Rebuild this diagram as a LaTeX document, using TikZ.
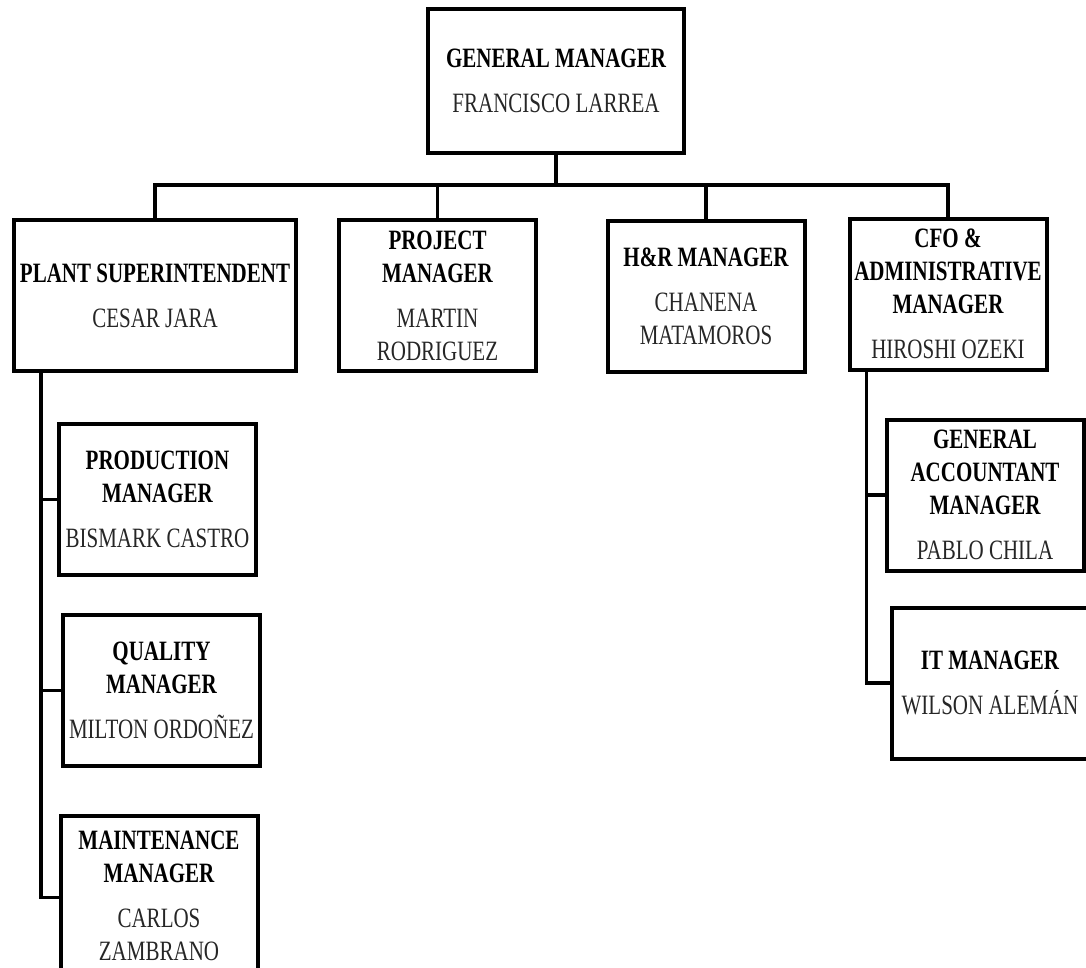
\documentclass[tikz,border=0pt]{standalone}
\usepackage{fontspec}
\setmainfont[FakeStretch=0.75]{Liberation Serif}
\newcommand{\who}[1]{{\mdseries\color{black!85}#1}}
\tikzset{
    post/.style={draw, line width=4pt, inner sep=0pt, align=center,
        minimum width=197pt, minimum height=151pt,
        font=\fontsize{28}{33}\selectfont\bfseries},
    link/.style={line width=3.4pt}
}
\begin{document}
\begin{tikzpicture}[x=1pt, y=-1pt]
    \useasboundingbox (0,0) rectangle (1086,967);

    % Top level
    \node[post, minimum width=256pt, minimum height=144pt] (gm) at (556,81)
        {GENERAL MANAGER\\[12pt]\who{FRANCISCO LARREA}};

    % Second level
    \node[post, minimum width=282pt] (plant) at (155,295.5)
        {PLANT SUPERINTENDENT\\[12pt]\who{CESAR JARA}};
    \node[post] (proj) at (437.5,295.5)
        {PROJECT\\MANAGER\\[12pt]\who{MARTIN}\\\who{RODRIGUEZ}};
    \node[post] (hr) at (706,296)
        {H\&R MANAGER\\[12pt]\who{CHANENA}\\\who{MATAMOROS}};
    \node[post] (cfo) at (948,294)
        {CFO \&\\ADMINISTRATIVE\\MANAGER\\[12pt]\who{HIROSHI OZEKI}};

    % Under plant superintendent
    \node[post] (prod) at (157.5,499.5)
        {PRODUCTION\\MANAGER\\[12pt]\who{BISMARK CASTRO}};
    \node[post] (qual) at (161.5,690.5)
        {QUALITY\\MANAGER\\[12pt]\who{MILTON ORDOÑEZ}};
    \node[post, minimum height=160pt] (maint) at (159,896)
        {MAINTENANCE\\MANAGER\\[12pt]\who{CARLOS}\\\who{ZAMBRANO}};

    % Under CFO
    \node[post] (ga) at (985,495)
        {GENERAL\\ACCOUNTANT\\MANAGER\\[12pt]\who{PABLO CHILA}};
    \node[post] (it) at (990,683)
        {IT MANAGER\\[12pt]\who{WILSON ALEMÁN}};

    % Connectors
    \coordinate (bus) at (556,185);
    \draw[link] (gm.south) -- (bus);
    \foreach \n in {plant, proj, hr, cfo} {
        \draw[link] (bus) -| (\n.north);
    }
    \coordinate (pspine) at ([xshift=29pt]plant.south west);
    \draw[link] (pspine) |- (prod.west);
    \draw[link] (pspine) |- (qual.west);
    \draw[link] (pspine) |- ([yshift=-1.5pt]maint.west);
    \coordinate (cspine) at ([xshift=19pt]cfo.south west);
    \foreach \n in {ga, it} {
        \draw[link] (cspine) |- (\n.west);
    }
\end{tikzpicture}
\end{document}
